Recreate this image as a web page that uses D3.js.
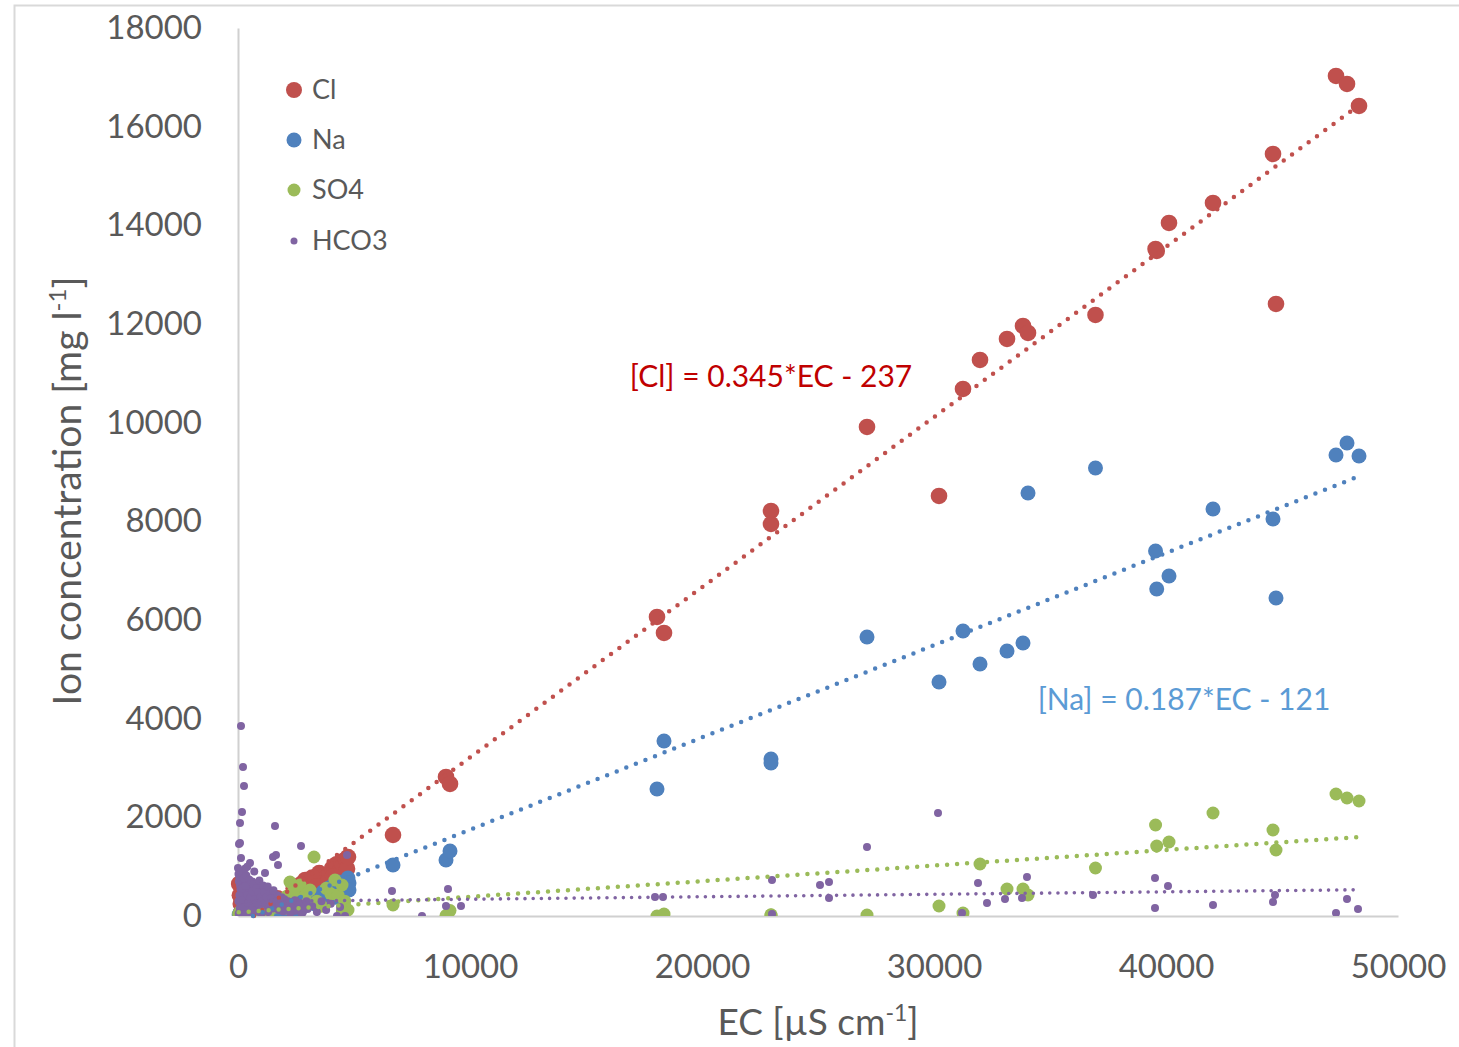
<!DOCTYPE html>
<html><head><meta charset="utf-8">
<script src="https://cdn.jsdelivr.net/npm/d3@7"></script>
<style>html,body{margin:0;padding:0;background:#fff;}svg{display:block;font-family:Lato,"Noto Sans",sans-serif;}</style>
</head><body>
<svg id="c" width="1459" height="1047"></svg>
<script>
// ---- data ----
const seriesNames = ["Cl", "Na", "SO4", "HCO3"];
const seriesColors = ["#c0504d", "#4f81bd", "#9bbb59", "#8064a2"];
const xTicks = [0, 10000, 20000, 30000, 40000, 50000];
const yTicks = [0, 2000, 4000, 6000, 8000, 10000, 12000, 14000, 16000, 18000];

// [EC, concentration]
const clData = [
 [50,650],[80,420],[120,250],[150,80],[200,160],[300,320],[400,90],[500,200],[650,120],[800,260],
 [1000,120],[1200,60],[1300,430],[1500,180],[1700,360],[2000,230],[2300,150],[2500,300],[2600,420],[2800,520],
 [2900,730],[3100,560],[3300,680],[3500,870],[3600,640],[3700,520],[3800,780],[3950,850],[4050,960],[4150,930],
 [4250,1050],[4350,880],[4450,1100],[4526,1014],[4600,770],[4650,1150],[4700,960],[4741,1196],
 [3200,780],[3400,600],[3900,700],[4100,800],[4300,650],[2700,640],[2400,560],[3000,400],
 [6681,1642],[8966,2818],[9138,2676],[18060,6061],[18362,5737],[22974,8210],[22974,7946],[27112,9913],
 [30216,8514],[31250,10683],[31983,11271],[33147,11697],[33836,11960],[34052,11818],[36960,12183],
 [39550,13521],[39600,13480],[40129,14048],[42026,14454],[44612,15447],[44741,12406],[47328,17028],[47802,16866],[48319,16420]
];
const naData = [
 [50,30],[100,60],[200,20],[300,100],[500,40],[700,80],[900,30],[1200,60],[1500,120],[1800,40],
 [2100,200],[2400,385],[2600,90],[2700,150],[3000,300],[3300,250],[3500,420],[3664,486],[3800,330],[3900,560],
 [4100,620],[4200,380],[4310,689],[4526,466],[4650,600],[4741,770],[4784,669],[4784,527],
 [6681,1034],[8966,1135],[9138,1318],[18060,2575],[18362,3548],[22974,3183],[22974,3102],[27112,5656],
 [30216,4744],[31250,5778],[31983,5108],[33147,5372],[33836,5534],[34052,8575],[36960,9082],
 [39550,7399],[39600,6629],[40129,6892],[42026,8251],[44612,8048],[44741,6446],[47328,9345],[47802,9588],[48319,9325]
];
const so4Data = [
 [30,40],[80,80],[150,20],[250,60],[400,30],[600,90],[800,50],[1000,120],[1200,300],[1300,70],
 [1600,180],[1900,250],[2000,150],[2100,400],[2241,689],[2400,500],[2672,628],[2900,420],[3103,527],[3276,1196],
 [3400,300],[3600,200],[3800,560],[4000,450],[4181,730],[4310,426],[4483,628],[4500,100],[4600,300],[4741,122],
 [6681,223],[8966,10],[9138,110],[18060,0],[18362,40],[22974,20],[22974,25],[27112,20],
 [30216,203],[31250,61],[31983,1054],[33147,547],[33836,547],[34052,426],[36960,973],
 [39550,1845],[39600,1419],[40129,1500],[42026,2088],[44612,1743],[44741,1338],[47328,2473],[47802,2392],[48319,2331]
];
const hco3Data = [
 [20,850],[40,700],[60,780],[90,620],[110,540],[140,680],[170,450],[200,820],[230,600],[260,380],
 [300,720],[340,520],[380,300],[420,640],[460,460],[500,250],[540,580],[580,400],[620,700],[660,320],
 [700,520],[750,180],[800,440],[850,620],[900,350],[950,230],[1000,500],[1050,400],[1100,300],[1164,872],
 [1200,560],[1250,200],[1300,420],[1350,330],[1400,250],[1450,480],[1500,150],[1550,380],[1600,280],[1650,200],
 [1700,420],[1750,120],[1800,320],[1850,260],[1900,180],[2000,340],[2100,230],[2200,150],[2300,280],[2400,100],
 [2500,210],[2600,300],[2700,160],[2800,80],[2900,250],[3000,140],[3200,200],[3400,80],[3600,300],[3800,120],
 [4000,250],[4267,0],[4400,180],[4612,0],[30,50],[80,150],[150,20],[250,100],[350,60],[450,130],
 [600,30],[800,90],[1000,40],[1300,80],
 [20,300],[60,420],[100,200],[130,900],[180,560],[210,330],[240,760],[280,180],[320,610],[360,820],
 [400,420],[440,270],[480,740],[520,360],[560,700],[610,500],[640,160],[680,640],[720,340],[770,560],
 [820,260],[870,480],[920,720],[970,380],[1020,300],[1080,620],[1130,480],[1180,250],[1230,380],[1280,600],
 [1330,180],[1380,460],[1430,360],[1480,280],[1530,520],[1580,170],[1680,300],[1780,220],[1880,380],[1950,90],
 [2050,180],[2150,300],[2250,60],[2350,200],[2450,320],[2550,110],[2650,230],[2750,40],[2850,170],[2950,300],
 [43,1460],[86,1885],[86,1480],[129,3852],[129,1176],[172,2108],[216,3020],[259,2635],[0,973],[517,1074],
 [1509,1196],[1638,1237],[1724,1034],[1595,1824],[2716,1419],[4698,1237],[300,960],[700,900],[400,1000],
 [6638,507],[7931,0],[8966,203],[9052,547],[9612,203],[17974,385],[18319,385],[23017,730],[23017,40],
 [25086,628],[25474,689],[25474,365],[27112,1399],[30173,2088],[31207,61],[31897,669],[32284,263],
 [33060,345],[33793,365],[34008,791],[36853,426],[39526,770],[39526,162],[40086,608],[42026,223],
 [44612,284],[44698,426],[47328,61],[47802,345],[48276,142]
];
const seriesData = [clData, naData, so4Data, hco3Data];
// linear trend [slope, intercept]
const trendCoefs = [[0.345, -237], [0.187, -121], [0.0316, 74], [0.005, 290]];
const equationTexts = ["[Cl] = 0.345*EC - 237", "[Na] = 0.187*EC - 121"];

// ---- drawing ----
const svg = d3.select("#c");
svg.append("rect").attr("x",0).attr("y",0).attr("width",1459).attr("height",1047).attr("fill","#fff");
svg.append("rect").attr("x",14.5).attr("y",5.5).attr("width",1470).attr("height",1070)
  .attr("fill","none").attr("stroke","#d9d9d9").attr("stroke-width",2);

const x = d3.scaleLinear().domain([0,50000]).range([238,1398]);
const y = d3.scaleLinear().domain([0,18000]).range([916,28]);
const textColor = "#595959";

svg.append("defs").append("clipPath").attr("id","plot")
  .append("rect").attr("x",x(0)-10).attr("y",y(18000)-10).attr("width",x(50000)-x(0)+20).attr("height",y(0)-y(18000)+10);

// axes
const yAxis = d3.axisLeft(y).tickValues(yTicks).tickSize(0).tickPadding(36).tickFormat(d3.format("d"));
const gy = svg.append("g").attr("transform",`translate(${x(0)},0)`).call(yAxis);
gy.select(".domain").attr("stroke","#d0d0d0").attr("stroke-width",2);
gy.selectAll("text").attr("fill",textColor).attr("font-size",33).attr("font-family","Lato");

const xAxis = d3.axisBottom(x).tickValues(xTicks).tickSize(0).tickPadding(50).tickFormat(d3.format("d"));
const gx = svg.append("g").attr("transform",`translate(0,${y(0)})`).call(xAxis);
gx.select(".domain").attr("stroke","#d0d0d0").attr("stroke-width",2);
gx.selectAll("text").attr("fill",textColor).attr("font-size",33).attr("font-family","Lato").attr("dy","0.35em");

// points
const radii = [8.3, 7.5, 6.5, 4];
seriesData.forEach((data, i) => {
  svg.append("g").attr("clip-path","url(#plot)").selectAll("circle").data(data).join("circle")
    .attr("cx", d => x(d[0])).attr("cy", d => y(d[1])).attr("r", radii[i])
    .attr("fill", seriesColors[i]);
});

// trend lines
const lineW = [4.5, 4.5, 4.5, 3.6];
const dash = ["0 10.3", "0 10.3", "0 10", "0 8.2"];
const line = d3.line().x(d => x(d[0])).y(d => y(d[1]));
seriesData.forEach((data, i) => {
  const ext = d3.extent(data, d => d[0]);
  const [m, b] = trendCoefs[i];
  let x0 = ext[0];
  if (m * x0 + b < 0) x0 = -b / m;
  const pts = [[x0, m * x0 + b], [ext[1], m * ext[1] + b]];
  svg.append("path").attr("d", line(pts)).attr("fill","none")
    .attr("stroke", seriesColors[i]).attr("stroke-width", lineW[i])
    .attr("stroke-dasharray", dash[i]).attr("stroke-linecap","round");
});

// equations
svg.append("text").attr("x",771).attr("y",376).attr("text-anchor","middle").attr("dy","0.35em")
  .attr("font-size",30).attr("fill","#c00000").text(equationTexts[0]);
svg.append("text").attr("x",1184).attr("y",699).attr("text-anchor","middle").attr("dy","0.35em")
  .attr("font-size",30).attr("fill","#5b9bd5").text(equationTexts[1]);

// legend
const legY = [90, 140, 190, 241];
const legR = [8, 7.5, 6.5, 3.5];
seriesNames.forEach((n, i) => {
  svg.append("circle").attr("cx",294).attr("cy",legY[i]).attr("r",legR[i]).attr("fill",seriesColors[i]);
  svg.append("text").attr("x",312).attr("y",legY[i]).attr("dy","0.35em").attr("font-size",27)
    .attr("fill",textColor).text(n);
});

// axis titles
const yt = svg.append("text").attr("transform","translate(81,491) rotate(-90)").attr("text-anchor","middle")
  .attr("font-size",39).attr("fill",textColor);
yt.append("tspan").text("Ion concentration [mg l");
yt.append("tspan").attr("font-size",24).attr("dy",-15).text("-1");
yt.append("tspan").attr("dy",15).text("]");

const xt = svg.append("text").attr("x",818).attr("y",1035).attr("text-anchor","middle")
  .attr("font-size",37).attr("fill",textColor);
xt.append("tspan").text("EC [µS cm");
xt.append("tspan").attr("font-size",23).attr("dy",-14).text("-1");
xt.append("tspan").attr("dy",14).text("]");
</script>
</body></html>
